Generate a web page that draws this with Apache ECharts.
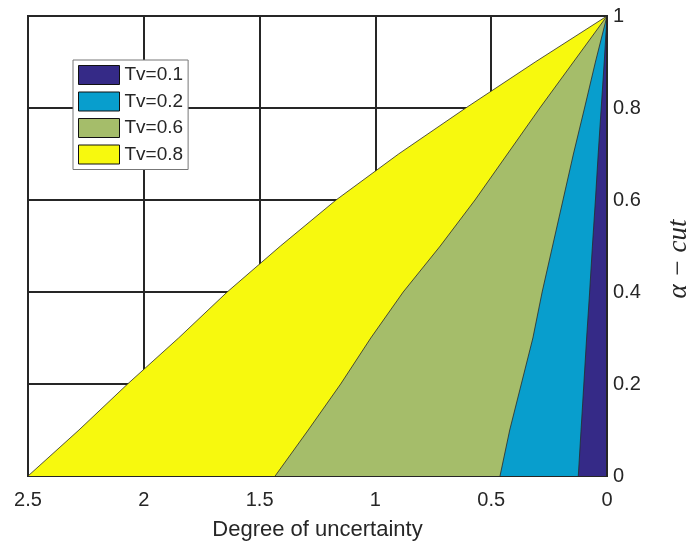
<!DOCTYPE html>
<html>
<head>
<meta charset="utf-8">
<script src="https://cdn.jsdelivr.net/npm/echarts@6/dist/echarts.min.js"></script>
<style>
  html, body { margin: 0; padding: 0; background: #fff; }
  #chart { width: 686px; height: 545px; }
</style>
</head>
<body>
<div id="chart"></div>
<script>
// alpha levels (y) and the degree of uncertainty read at each level (x)
const alphaCut = [0, 0.1, 0.2, 0.3, 0.4, 0.5, 0.6, 0.7, 0.8, 0.9, 1]
const tv08 = [2.5, 2.28, 2.07, 1.85, 1.64, 1.41, 1.17, 0.90, 0.61, 0.31, 0]
const tv06 = [1.433, 1.29, 1.15, 1.02, 0.88, 0.72, 0.57, 0.43, 0.29, 0.145, 0]
const tv02 = [0.462, 0.42, 0.37, 0.32, 0.28, 0.235, 0.19, 0.145, 0.097, 0.05, 0]
const tv01 = [0.124, 0.112, 0.1, 0.088, 0.075, 0.063, 0.05, 0.038, 0.025, 0.012, 0]

const seriesNames = ['Tv=0.1', 'Tv=0.2', 'Tv=0.6', 'Tv=0.8']
const seriesColors = ['#352a87', '#089ecd', '#a5bd6a', '#f7f90e']
const seriesValues = [tv01, tv02, tv06, tv08]

const textColor = '#262626'
const font = 'Liberation Sans, Arial, sans-serif'

let myChart = echarts.init(document.getElementById('chart'))

// draw the widest area first so the narrow ones sit on top
const series = []
for (let i = seriesNames.length - 1; i >= 0; i--) {
  series.push({
    name: seriesNames[i],
    type: 'line',
    symbol: 'none',
    silent: true,
    data: seriesValues[i].map((x, k) => [x, alphaCut[k]]),
    lineStyle: { color: '#2a2a2a', width: 0.8 },
    itemStyle: { color: seriesColors[i] },
    areaStyle: { color: seriesColors[i], opacity: 1 }
  })
}

const option = {
  backgroundColor: '#fff',
  animation: false,
  grid: {
    left: 28, right: 79, top: 16, bottom: 69,
    outerBoundsMode: 'none',
    containLabel: false,
    show: true, borderColor: textColor, borderWidth: 2
  },
  legend: {
    data: seriesNames.map((n, i) => ({
      name: n,
      itemStyle: { color: seriesColors[i], borderColor: '#111', borderWidth: 1 }
    })),
    orient: 'vertical',
    left: 73, top: 60,
    padding: 5,
    icon: 'rect',
    itemWidth: 41, itemHeight: 19, itemGap: 6.5,
    backgroundColor: '#fff',
    borderColor: '#777', borderWidth: 1,
    selectedMode: false,
    textStyle: { color: textColor, fontSize: 19, fontFamily: font }
  },
  xAxis: {
    type: 'value',
    inverse: true,
    min: 0, max: 2.5, interval: 0.5,
    name: 'Degree of uncertainty',
    nameLocation: 'middle',
    nameGap: 43,
    nameTextStyle: { color: textColor, fontSize: 22, fontFamily: font },
    axisLine: { show: false },
    axisTick: { show: false },
    axisLabel: { color: textColor, fontSize: 20, fontFamily: font, margin: 14 },
    splitLine: { show: true, lineStyle: { color: textColor, width: 2 } }
  },
  yAxis: [{
    type: 'value',
    position: 'right',
    min: 0, max: 1, interval: 0.2,
    name: 'α − cut',
    nameLocation: 'middle',
    nameRotate: 90,
    nameGap: 58,
    nameTextStyle: {
      color: textColor, fontSize: 27, fontStyle: 'italic',
      fontFamily: 'Liberation Serif, serif', padding: [0, 26, 0, 0]
    },
    axisLine: { show: false },
    axisTick: { show: false },
    axisLabel: { color: textColor, fontSize: 20, fontFamily: font, margin: 6, padding: [8, 0, 0, 0] },
    splitLine: { show: true, lineStyle: { color: textColor, width: 2 } }
  }, {
    // right frame edge drawn over the filled areas
    type: 'value',
    position: 'right',
    min: 0, max: 1,
    z: 5,
    axisLine: { show: true, lineStyle: { color: textColor, width: 2 } },
    axisTick: { show: false },
    axisLabel: { show: false },
    splitLine: { show: false }
  }],
  series: series
}

myChart.setOption(option)
</script>
</body>
</html>
